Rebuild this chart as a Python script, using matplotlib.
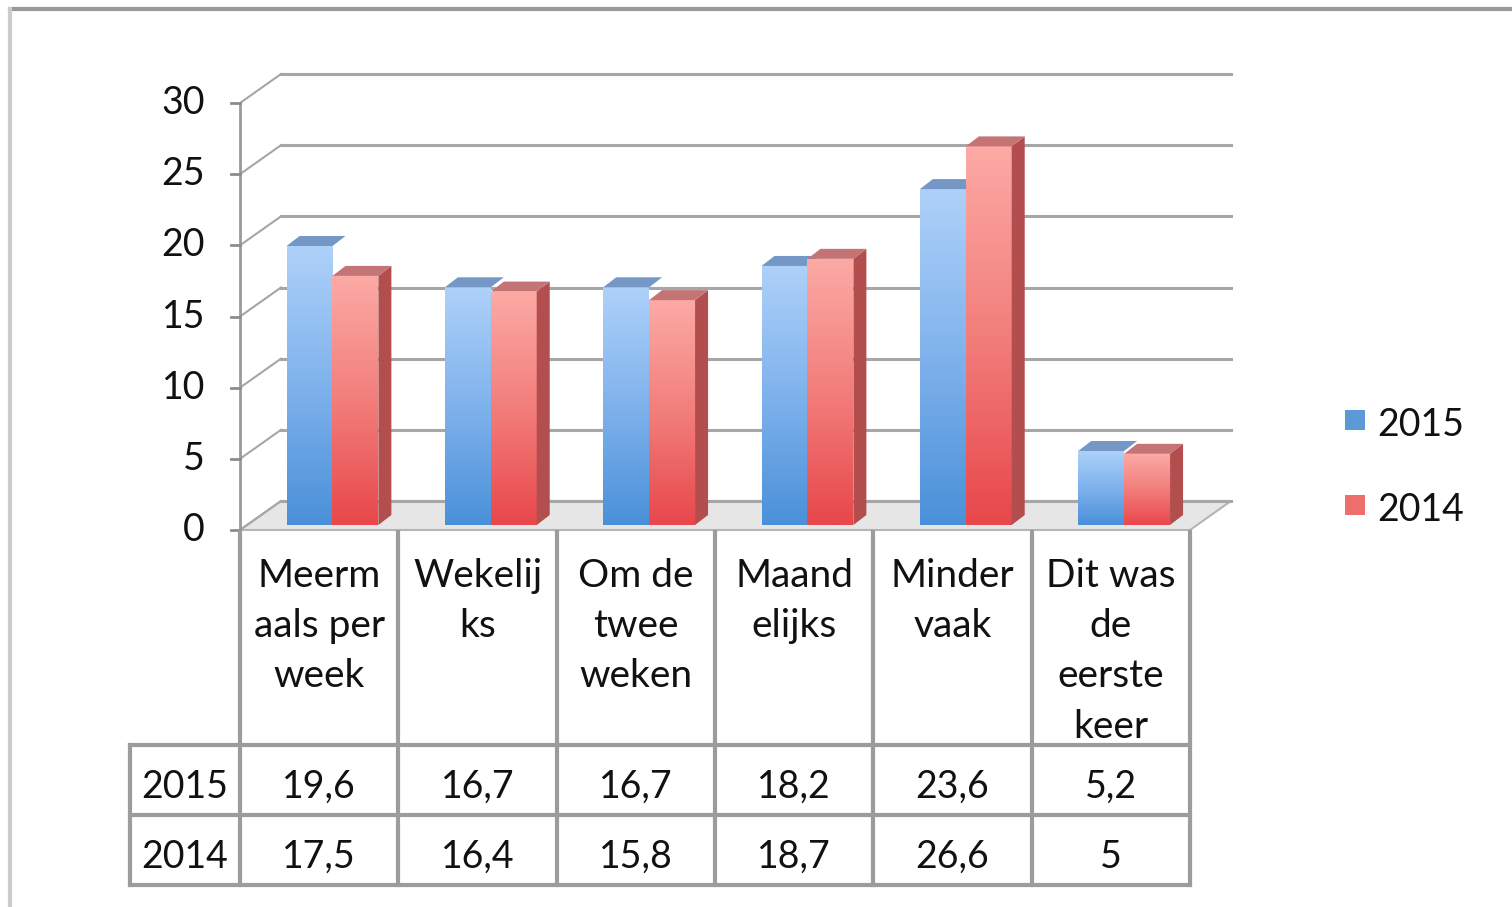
import numpy as np
import matplotlib.pyplot as plt
import matplotlib.transforms as mtransforms
from matplotlib.patches import Rectangle, Polygon
from matplotlib.colors import LinearSegmentedColormap

# Data
categories = ['Meerm\naals per\nweek', 'Wekelij\nks', 'Om de\ntwee\nweken',
              'Maand\nelijks', 'Minder\nvaak', 'Dit was\nde\neerste\nkeer']
series_names = ['2015', '2014']
values_2015 = [19.6, 16.7, 16.7, 18.2, 23.6, 5.2]
values_2014 = [17.5, 16.4, 15.8, 18.7, 26.6, 5]
y_ticks = [0, 5, 10, 15, 20, 25, 30]

W, H = 1512, 907
DPI = 100
plt.rcParams['font.family'] = ['Lato', 'DejaVu Sans']
FS = 27
TXT = '#111111'

fig = plt.figure(figsize=(W / DPI, H / DPI), dpi=DPI)
fig.patch.set_facecolor('white')

# axes: x -0.5..5.5 -> px 240..1190, y 0..30 -> px 530..103
ax_l, ax_r, ax_t, ax_b = 240, 1190, 103, 530
ax = fig.add_axes([ax_l / W, 1 - ax_b / H, (ax_r - ax_l) / W, (ax_b - ax_t) / H])
ax.set_xlim(-0.5, len(categories) - 0.5)
ax.set_ylim(0, 30)
ax.axis('off')

def px(dx, dy):
    # shift in screen pixels (dy upward positive)
    return mtransforms.ScaledTranslation(dx / DPI, dy / DPI, fig.dpi_scale_trans)

def to_data(pts):
    return ax.transData.inverted().transform(np.asarray(pts))

back = ax.transData + px(41, 29)
bar_tr = ax.transData + px(0, 5)
grid_col = '#a6a6a6'
x0, x1 = -0.5, len(categories) - 0.5

# floor
fl = [ax.transData.transform((x0, 0)), ax.transData.transform((x1, 0)),
      back.transform((x1, 0)), back.transform((x0, 0))]
ax.add_patch(Polygon(to_data(fl), closed=True, facecolor='#e6e6e6', edgecolor='#b5b5b5',
                     lw=1.5, zorder=0.5, clip_on=False))

# back wall gridlines, diagonals, ticks
for t in y_ticks:
    ax.plot([x0, x1], [t, t], color=grid_col, lw=2.2, transform=back, clip_on=False, zorder=1)
    p0 = ax.transData.transform((x0, t))
    p1 = back.transform((x0, t))
    d = to_data([p0, p1, p0 - [9, 0]])
    ax.plot(d[:2, 0], d[:2, 1], color=grid_col, lw=1.5, clip_on=False, zorder=1)
    ax.plot([d[2, 0], d[0, 0]], [t, t], color='#8c8c8c', lw=2, clip_on=False)
    ax.text(d[0, 0], t, str(t), transform=ax.transData + px(-35, 0),
            ha='right', va='center', fontsize=FS, color=TXT)
# front y axis
ax.plot([x0, x0], [0, 30], color='#9a9a9a', lw=2, clip_on=False, zorder=1)

# bars
blue_cm = LinearSegmentedColormap.from_list('b', ['#4a90d9', '#7fb2ec', '#aed1f9'])
red_cm = LinearSegmentedColormap.from_list('r', ['#e8474b', '#f27e7b', '#fcaaa5'])
bar_w = 0.29
xs = np.arange(len(categories))
dx, dy = 13, 10
grad = np.linspace(0, 1, 256).reshape(-1, 1)
for k, (vals, cm, side_c, top_c, off) in enumerate([
        (values_2015, blue_cm, '#5c86bb', '#7497c6', -0.206),
        (values_2014, red_cm, '#b24e4e', '#c47474', 0.084)]):
    z = 3 + k
    bars = ax.bar(xs + off, vals, width=bar_w, align='edge', transform=bar_tr,
                  facecolor='none', edgecolor='none', clip_on=False, zorder=z)
    for rect, v in zip(bars, vals):
        bx = rect.get_x()
        im = ax.imshow(grad, cmap=cm, origin='lower', aspect='auto',
                       extent=[bx, bx + bar_w, 0, v], transform=bar_tr, zorder=z,
                       interpolation='bilinear')
        im.set_clip_path(rect)
        b = bar_tr.transform((bx + bar_w, 0))
        c = bar_tr.transform((bx + bar_w, v))
        d = bar_tr.transform((bx, v))
        side = [b, c, c + [dx, dy], b + [dx, dy]]
        top = [d, c, c + [dx, dy], d + [dx, dy]]
        if k == 1:
            ax.add_patch(Polygon(to_data(side), closed=True, facecolor=side_c,
                                 edgecolor='none', zorder=z + 0.5, clip_on=False))
        ax.add_patch(Polygon(to_data(top), closed=True, facecolor=top_c,
                             edgecolor='none', zorder=z + 0.5, clip_on=False))
ax.set_xlim(-0.5, len(categories) - 0.5)
ax.set_ylim(0, 30)

# table
blend = mtransforms.blended_transform_factory(ax.transData, fig.transFigure)
tcol = '#9c9c9c'
tab_top, row1, row2, tab_bot = 532, 745, 815, 885
edges = np.arange(len(categories) + 1) - 0.5
for e in edges:
    fig.lines.append(plt.Line2D([e, e], [1 - tab_top / H, 1 - tab_bot / H], transform=blend,
                                color=tcol, lw=3))
fig.lines.append(plt.Line2D([130 / W, 130 / W], [1 - row1 / H, 1 - tab_bot / H],
                            transform=fig.transFigure, color=tcol, lw=3))
for yy in [row1, row2, tab_bot]:
    fig.lines.append(plt.Line2D([130 / W, ax_r / W], [1 - yy / H, 1 - yy / H],
                                transform=fig.transFigure, color=tcol, lw=3))

for i, lab in enumerate(categories):
    fig.text(0, 1 - 558 / H, lab, transform=blend, ha='center', va='top', fontsize=28,
             linespacing=1.49, color=TXT).set_x(i)
    for yy, vals in [((row1 + row2) / 2, values_2015), ((row2 + tab_bot) / 2, values_2014)]:
        fig.text(0, 1 - (yy + 7) / H, f'{vals[i]:g}'.replace('.', ','), transform=blend,
                 ha='center', va='center', fontsize=FS, color=TXT).set_x(i)
for yy, name in [((row1 + row2) / 2, series_names[0]), ((row2 + tab_bot) / 2, series_names[1])]:
    fig.text(185 / W, 1 - (yy + 7) / H, name, ha='center', va='center', fontsize=FS, color=TXT)

# legend
for yy, name, c in [(420, series_names[0], '#5b9bd5'), (505, series_names[1], '#ec6f6c')]:
    fig.patches.append(Rectangle((1345 / W, 1 - (yy + 10) / H), 20 / W, 20 / H,
                                 transform=fig.transFigure, facecolor=c, edgecolor='none'))
    fig.text(1377 / W, 1 - (yy + 5) / H, name, ha='left', va='center', fontsize=FS, color=TXT)

# outer frame
fig.lines.append(plt.Line2D([10 / W, 1], [1 - 9 / H, 1 - 9 / H], transform=fig.transFigure,
                            color='#999999', lw=3))
fig.lines.append(plt.Line2D([10 / W, 10 / W], [0, 1 - 9 / H], transform=fig.transFigure,
                            color='#cccccc', lw=3))

fig.savefig('out.png', dpi=DPI)
